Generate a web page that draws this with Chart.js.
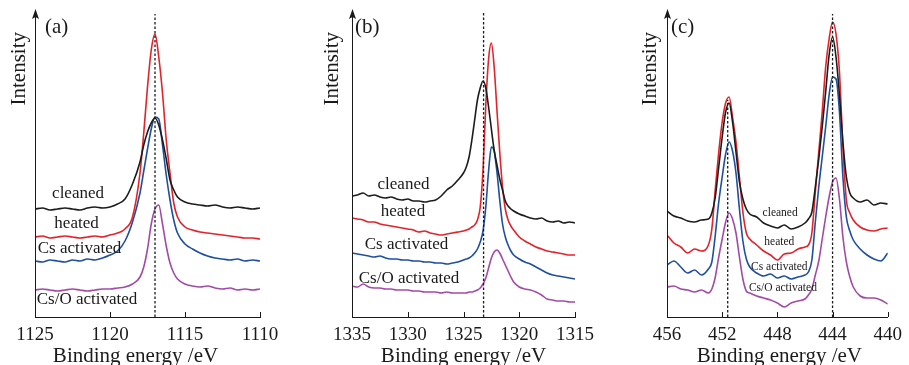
<!DOCTYPE html>
<html>
<head>
<meta charset="utf-8">
<script src="https://cdn.jsdelivr.net/npm/chart.js@4.4.1/dist/chart.umd.min.js"></script>
<style>
  html, body { margin: 0; padding: 0; background: #fff; }
  #wrap { position: relative; width: 909px; height: 365px; overflow: hidden; }
  .panel { position: absolute; top: 0; width: 303px; height: 365px; }
</style>
</head>
<body>
<div id="wrap">
  <div class="panel" style="left:0px"><canvas id="chartA" width="303" height="365"></canvas></div>
  <div class="panel" style="left:303px"><canvas id="chartB" width="303" height="365"></canvas></div>
  <div class="panel" style="left:606px"><canvas id="chartC" width="303" height="365"></canvas></div>
</div>
<script>
// ---- data (intensity in arbitrary units) ----
const seriesNames = ['cleaned', 'heated', 'Cs activated', 'Cs/O activated'];

// (a)
const energyA = [1125, 1124.5, 1124, 1123.5, 1123, 1122.5, 1122, 1121.5, 1121, 1120.5, 1120, 1119.5, 1119,
  1118.5, 1118, 1117.75, 1117.5, 1117.25, 1117, 1116.75, 1116.5, 1116.25, 1116, 1115.75, 1115.5, 1115,
  1114.5, 1114, 1113.5, 1113, 1112.5, 1112, 1111.5, 1111, 1110.5, 1110];
const cleanedA = [108, 109, 107, 108, 109, 108, 107, 109, 110, 109, 110, 113, 118,
  133, 155, 172, 185, 194, 199, 192, 177, 158, 137, 127, 120, 115,
  113, 112, 111, 112, 110, 109, 110, 109, 108, 109];
const heatedA = [80, 81, 79, 80, 81, 80, 79, 80, 81, 80, 82, 84, 88,
  100, 144, 184, 230, 267, 283, 260, 224, 177, 144, 114, 100, 90,
  87, 85, 84, 83, 82, 81, 80, 79, 79, 78];
const csA = [56, 55, 57, 56, 55, 57, 56, 58, 57, 59, 62, 66, 76,
  95, 124, 146, 168, 188, 200, 198, 172, 142, 117, 97, 84, 73,
  68, 64, 61, 59, 58, 57, 58, 56, 57, 56];
const csoA = [27, 28, 27, 26, 27, 28, 27, 26, 27, 28, 28, 29, 30,
  33, 40, 50, 68, 93, 108, 112, 93, 71, 54, 44, 38, 33,
  31, 30, 31, 29, 28, 29, 27, 28, 27, 28];
const peakLinesA = [1117.0];
const peakTopsA = [303];

// (b)
const energyB = [1335, 1334.5, 1334, 1333.5, 1333, 1332.5, 1332, 1331.5, 1331, 1330.5, 1330, 1329.5, 1329,
  1328.5, 1328, 1327.5, 1327, 1326.5, 1326, 1325.5, 1325,
  1324.75, 1324.5, 1324.25, 1324, 1323.75, 1323.5, 1323.25, 1323, 1322.75, 1322.5, 1322.25, 1322,
  1321.75, 1321.5, 1321.25, 1321, 1320.75, 1320.5,
  1320, 1319.5, 1319, 1318.5, 1318, 1317.5, 1317, 1316.5, 1316, 1315.5, 1315];
const cleanedB = [121, 122, 124, 121, 122, 120, 119, 120, 118, 117, 118, 116, 116,
  115, 116, 117, 121, 127, 131, 137, 144,
  150, 160, 177, 197, 217, 229, 236, 229, 210, 188, 167, 152,
  138, 127, 116, 111, 108, 106,
  103, 101, 99, 98, 99, 96, 95, 96, 94, 95, 94];
const heatedB = [99, 98, 97, 95, 95, 93, 92, 91, 90, 89, 88, 87, 85,
  86, 84, 83, 82, 83, 84, 85, 86,
  87, 88, 90, 92, 97, 110, 147, 212, 258, 274, 250, 207,
  165, 130, 108, 97, 91, 87,
  80, 76, 73, 70, 68, 66, 65, 64, 63, 62, 62];
const csB = [64, 63, 62, 61, 60, 61, 59, 58, 58, 57, 57, 56, 56,
  55, 55, 54, 54, 53, 54, 55, 57,
  58, 59, 61, 64, 68, 75, 86, 110, 146, 170, 166, 145,
  117, 93, 80, 72, 66, 62,
  58, 55, 53, 50, 47, 44, 42, 41, 40, 39, 38];
const csoB = [31, 30, 33, 30, 29, 29, 28, 28, 27, 27, 27, 26, 26,
  25, 25, 25, 24, 25, 24, 24, 24,
  24, 25, 25, 26, 27, 29, 33, 39, 49, 59, 65, 67,
  64, 58, 52, 46, 40, 35,
  30, 28, 27, 25, 22, 18, 17, 16, 16, 15, 15];
const peakLinesB = [1323.2];
const peakTopsB = [304];

// (c)
const energyC = [456, 455.5, 455, 454.5, 454, 453.5, 453,
  452.75, 452.5, 452.25, 452, 451.75, 451.5, 451.25, 451, 450.75, 450.5, 450.25, 450,
  449.5, 449, 448.5, 448, 447.5, 447, 446.5, 446,
  445.75, 445.5, 445.25, 445, 444.75, 444.5, 444.25, 444, 443.75, 443.5, 443.25, 443, 442.75, 442.5,
  442, 441.5, 441, 440.5, 440];
const cleanedC = [106, 101, 99, 96, 95, 97, 98,
  104, 120, 150, 180, 205, 214, 195, 165, 135, 118, 108, 103,
  100, 94, 91, 89, 92, 88, 90, 94,
  98, 105, 130, 158, 190, 225, 262, 280, 260, 222, 175, 140, 124, 119,
  115, 117, 112, 114, 113];
const heatedC = [82, 74, 70, 64, 68, 66, 72,
  88, 128, 165, 195, 214, 220, 200, 175, 140, 105, 84, 78,
  72, 66, 62, 57, 63, 64, 68, 70,
  72, 84, 125, 165, 205, 250, 278, 295, 283, 245, 170, 117, 104, 97,
  90, 87, 86, 88, 89];
const csC = [52, 56, 50, 44, 47, 42, 48,
  55, 82, 115, 140, 163, 175, 166, 144, 108, 76, 58, 50,
  44, 41, 43, 39, 41, 38, 40, 42,
  45, 57, 95, 130, 160, 190, 222, 240, 238, 205, 140, 100, 86, 77,
  68, 62, 58, 56, 64];
const csoC = [30, 31, 28, 27, 25, 27, 24,
  28, 40, 60, 78, 95, 104, 98, 84, 60, 38, 26, 24,
  21, 19, 17, 14, 10, 14, 16, 18,
  22, 28, 42, 56, 78, 100, 120, 135, 139, 118, 80, 55, 40, 30,
  21, 19, 19, 17, 13];
const peakLinesC = [451.6, 444.0];
const peakTopsC = [217, 303];

// ---- look ----
const ink = '#1a1a1a';
const colors = ['#1c1c1c', '#e2232a', '#1f4f9f', '#a24ba6'];
const serif = '"Liberation Serif", "Times New Roman", serif';

// inner ticks, arrowed y axis and the free texts of a panel
const panelDecor = {
  id: 'panelDecor',
  afterDraw(chart, args, o) {
    const { ctx, chartArea: { left, top, bottom }, scales: { x, y } } = chart;
    const ax = Math.round(left) + 0.5;
    ctx.save();
    ctx.strokeStyle = ink;
    ctx.fillStyle = ink;
    ctx.lineWidth = 1;

    ctx.beginPath();
    ctx.moveTo(ax, bottom);
    ctx.lineTo(ax, top + 2);
    ctx.stroke();
    ctx.beginPath();
    ctx.moveTo(ax, top - 3);
    ctx.lineTo(ax - 3.5, top + 7);
    ctx.lineTo(ax, top + 5);
    ctx.lineTo(ax + 3.5, top + 7);
    ctx.closePath();
    ctx.fill();

    x.ticks.forEach(t => {
      const px = Math.round(x.getPixelForValue(t.value)) + 0.5;
      ctx.beginPath();
      ctx.moveTo(px, bottom);
      ctx.lineTo(px, bottom - 5);
      ctx.stroke();
    });

    ctx.font = '21px ' + serif;
    ctx.textBaseline = 'middle';
    ctx.textAlign = 'left';
    ctx.fillText(o.tag, left + o.tagDx, 27);

    ctx.save();
    ctx.translate(left - o.yTitleDx, 32);
    ctx.rotate(-Math.PI / 2);
    ctx.textAlign = 'right';
    ctx.fillText('Intensity', 0, 0);
    ctx.restore();

    ctx.textAlign = 'center';
    ctx.textBaseline = 'alphabetic';
    ctx.fillText('Binding energy /eV', (x.left + x.right) / 2 + o.xTitleDx, 362);

    ctx.font = o.labelSize + 'px ' + serif;
    ctx.textBaseline = 'middle';
    seriesNames.forEach((name, i) => {
      const [e, v] = o.labelAt[i];
      ctx.fillText(name, x.getPixelForValue(e), y.getPixelForValue(v));
    });
    ctx.restore();
  }
};

function makePanel(id, p) {
  const pts = vals => p.energy.map((e, i) => ({ x: e, y: vals[i] }));
  const datasets = p.peaks.map((e, i) => ({
    data: [{ x: e, y: 0 }, { x: e, y: p.peakTops[i] }],
    borderColor: ink,
    borderWidth: 1.3,
    borderDash: [2.5, 2]
  }));
  p.series.forEach((vals, i) => {
    datasets.push({
      label: seriesNames[i],
      data: pts(vals),
      borderColor: colors[i],
      borderWidth: 1.6,
      cubicInterpolationMode: 'monotone'
    });
  });

  new Chart(document.getElementById(id), {
    type: 'line',
    data: { datasets },
    options: {
      responsive: false,
      animation: false,
      layout: { padding: { left: p.left, right: p.right, top: 12, bottom: 0 } },
      elements: { point: { radius: 0 } },
      plugins: {
        legend: { display: false },
        tooltip: { enabled: false },
        panelDecor: p.decor
      },
      scales: {
        x: {
          type: 'linear',
          reverse: true,
          min: p.min,
          max: p.max,
          afterFit: s => { s.height = 48; },
          grid: { display: false, drawTicks: false },
          border: { display: true, color: ink, width: 1 },
          ticks: {
            stepSize: p.step,
            autoSkip: false,
            maxRotation: 0,
            padding: 7,
            color: ink,
            font: { family: serif, size: 19 },
            callback: v => String(v)
          }
        },
        y: { display: false, min: 0, max: 305 }
      }
    },
    plugins: [panelDecor]
  });
}

makePanel('chartA', {
  energy: energyA, series: [cleanedA, heatedA, csA, csoA],
  peaks: peakLinesA, peakTops: peakTopsA,
  min: 1110, max: 1125, step: 5, left: 35, right: 43,
  decor: {
    tag: '(a)', tagDx: 10, yTitleDx: 16, xTitleDx: -12, labelSize: 17,
    labelAt: [[1122.13, 123], [1122.23, 93], [1122.03, 68], [1121.53, 17]]
  }
});

makePanel('chartB', {
  energy: energyB, series: [cleanedB, heatedB, csB, csoB],
  peaks: peakLinesB, peakTops: peakTopsB,
  min: 1315, max: 1335, step: 5, left: 49, right: 31,
  decor: {
    tag: '(b)', tagDx: 3, yTitleDx: 20, xTitleDx: 0, labelSize: 17,
    labelAt: [[1330.38, 132], [1330.43, 105], [1330.11, 72], [1329.89, 38]]
  }
});

makePanel('chartC', {
  energy: energyC, series: [cleanedC, heatedC, csC, csoC],
  peaks: peakLinesC, peakTops: peakTopsC,
  min: 440, max: 456, step: 4, left: 61, right: 18,
  decor: {
    tag: '(c)', tagDx: 4, yTitleDx: 17, xTitleDx: 2, labelSize: 11.5,
    labelAt: [[447.8, 104], [447.86, 75], [447.86, 50], [447.6, 29]]
  }
});
</script>
</body>
</html>
